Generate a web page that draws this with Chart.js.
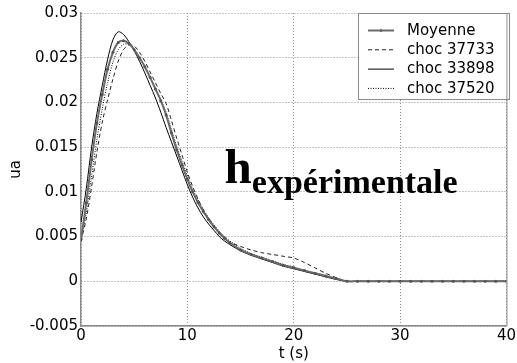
<!DOCTYPE html>
<html>
<head>
<meta charset="utf-8">
<script src="https://cdn.jsdelivr.net/npm/chart.js@4"></script>
<style>
  html, body { margin: 0; padding: 0; background: #fff; }
  #wrap { width: 517px; height: 363px; }
</style>
</head>
<body>
<div id="wrap"><canvas id="chart" width="517" height="363"></canvas></div>
<script>
// time axis (s)
const time = [0, 0.5, 1, 1.5, 2, 2.5, 3, 3.5, 4, 4.5, 5, 5.5, 6, 6.5, 7, 7.5, 8, 8.5, 9, 9.5,
    10, 10.5, 11, 11.5, 12, 12.5, 13, 13.5, 14, 15, 16, 17, 18, 19, 20, 21, 22, 23, 24, 25,
    26, 27, 28, 29, 30, 31, 32, 33, 34, 35, 36, 37, 38, 39, 40];

const zeros = new Array(15).fill(0); // t = 26..40

const moyenne = [0.0047, 0.0088, 0.0136, 0.0177, 0.0209, 0.0237, 0.0256, 0.0267, 0.0269, 0.0266,
    0.0259, 0.0250, 0.0240, 0.0228, 0.0215, 0.0202, 0.0186, 0.0166, 0.0147, 0.0130,
    0.0114, 0.0100, 0.0088, 0.0078, 0.0069, 0.0061, 0.0054, 0.0048, 0.0043, 0.0035,
    0.0030, 0.0026, 0.0022, 0.0018, 0.0015, 0.0012, 0.0009, 0.0006, 0.0003, 0].concat(zeros);

const choc37733 = [0.0045, 0.0070, 0.0106, 0.0145, 0.0178, 0.0203, 0.0226, 0.0246, 0.0259, 0.0264,
    0.0263, 0.0256, 0.0246, 0.0234, 0.0222, 0.0210, 0.0199, 0.0180, 0.0160, 0.0141,
    0.0122, 0.0106, 0.0092, 0.0080, 0.0070, 0.0062, 0.0055, 0.0049, 0.0044, 0.0039,
    0.0035, 0.0032, 0.0030, 0.0028, 0.0026, 0.0021, 0.0015, 0.0009, 0.0004, 0].concat(zeros);

const choc33898 = [0.0066, 0.0104, 0.0150, 0.0188, 0.0219, 0.0248, 0.0270, 0.0279, 0.0276, 0.0268,
    0.0258, 0.0246, 0.0233, 0.0219, 0.0205, 0.0189, 0.0172, 0.0156, 0.0140, 0.0124,
    0.0108, 0.0094, 0.0082, 0.0072, 0.0064, 0.0057, 0.0050, 0.0045, 0.0041, 0.0034,
    0.0029, 0.0025, 0.0021, 0.0017, 0.0014, 0.0011, 0.0008, 0.0005, 0.0002, 0].concat(zeros);

const choc37520 = [0.0045, 0.0077, 0.0118, 0.0159, 0.0193, 0.0222, 0.0245, 0.0259, 0.0265, 0.0265,
    0.0259, 0.0250, 0.0240, 0.0228, 0.0216, 0.0203, 0.0189, 0.0170, 0.0151, 0.0134,
    0.0118, 0.0103, 0.0091, 0.0080, 0.0071, 0.0063, 0.0056, 0.0050, 0.0045, 0.0037,
    0.0031, 0.0027, 0.0023, 0.0019, 0.0016, 0.0012, 0.0009, 0.0006, 0.0003, 0].concat(zeros);

const xTickLabels = ["0", "10", "20", "30", "40"];
const yTickLabels = ["-0.005", "0", "0.005", "0.01", "0.015", "0.02", "0.025", "0.03"];

const FONT = "'DejaVu Sans', Arial, sans-serif";
const SERIF = "'Liberation Serif', 'Times New Roman', serif";

function toPoints(values) {
    return values.map((v, i) => ({ x: time[i], y: v }));
}

// legend drawn inside the axes, Matlab style, plus the text annotation
const boxLegend = {
    id: "boxLegend",
    afterDraw(chart) {
        const ctx = chart.ctx;
        const area = chart.chartArea;
        const x0 = 358, y0 = 13, w = 151, h = 86;
        ctx.save();
        ctx.fillStyle = "#fff";
        ctx.fillRect(x0, y0, w, h);
        ctx.strokeStyle = "#8a8a8a";
        ctx.lineWidth = 1;
        ctx.strokeRect(x0 + 0.5, y0 + 0.5, w, h);
        ctx.font = "15px " + FONT;
        ctx.textBaseline = "middle";
        chart.data.datasets.forEach((ds, i) => {
            const y = y0 + 17 + i * 19.3;
            ctx.strokeStyle = ds.borderColor;
            ctx.lineWidth = ds.borderWidth;
            ctx.setLineDash(ds.borderDash || []);
            ctx.beginPath();
            ctx.moveTo(368, y + 0.5);
            ctx.lineTo(394, y + 0.5);
            ctx.stroke();
            ctx.setLineDash([]);
            if (ds.pointRadius > 0) {
                ctx.fillStyle = ds.borderColor;
                ctx.beginPath();
                ctx.arc(381, y + 0.5, 1.5, 0, Math.PI * 2);
                ctx.fill();
            }
            ctx.fillStyle = "#000";
            ctx.fillText(ds.label, 407, y + 1);
        });
        // right border of axes box
        ctx.strokeStyle = "#8a8a8a";
        ctx.lineWidth = 1;
        ctx.beginPath();
        ctx.moveTo(area.right + 0.5, area.top);
        ctx.lineTo(area.right + 0.5, area.bottom);
        ctx.stroke();

        // annotation h_expérimentale
        const sx = chart.scales.x, sy = chart.scales.y;
        const hx = sx.getPixelForValue(13.5);
        const hy = sy.getPixelForValue(0.011);
        ctx.fillStyle = "#000";
        ctx.textBaseline = "alphabetic";
        ctx.font = "bold 49px " + SERIF;
        ctx.fillText("h", hx, hy);
        const hw = ctx.measureText("h").width;
        ctx.font = "bold 34px " + SERIF;
        ctx.fillText("expérimentale", hx + hw + 0, hy + 10);
        ctx.restore();
    }
};

new Chart(document.getElementById("chart"), {
    type: "line",
    data: {
        datasets: [
            {
                label: "Moyenne",
                data: toPoints(moyenne),
                borderColor: "#6a6a6a",
                backgroundColor: "#6a6a6a",
                borderWidth: 2,
                pointRadius: 1.5,
                pointBorderWidth: 0,
                pointBackgroundColor: "#555",
                tension: 0.3
            },
            {
                label: "choc 37733",
                data: toPoints(choc37733),
                borderColor: "#222",
                borderWidth: 1,
                borderDash: [4, 3],
                pointRadius: 0,
                tension: 0.3
            },
            {
                label: "choc 33898",
                data: toPoints(choc33898),
                borderColor: "#000",
                borderWidth: 1,
                pointRadius: 0,
                tension: 0.3
            },
            {
                label: "choc 37520",
                data: toPoints(choc37520),
                borderColor: "#000",
                borderWidth: 1,
                borderDash: [1, 1.5],
                pointRadius: 0,
                tension: 0.3
            }
        ]
    },
    options: {
        responsive: false,
        animation: false,
        layout: { padding: { top: 13, right: 7, left: 0, bottom: 0 } },
        plugins: {
            legend: { display: false },
            tooltip: { enabled: false }
        },
        scales: {
            x: {
                type: "linear",
                min: 0,
                max: 40,
                afterFit: (s) => { s.height = 37; },
                ticks: {
                    stepSize: 10,
                    color: "#000",
                    font: { size: 15, family: FONT },
                    padding: 1,
                    maxRotation: 0,
                    callback: (v, i) => xTickLabels[i]
                },
                grid: { color: "#8c8c8c", lineWidth: 1, drawTicks: false },
                border: { display: true, color: "#8a8a8a", width: 1.5, dash: [1, 2] },
                title: {
                    display: true,
                    text: "t (s)",
                    color: "#000",
                    font: { size: 15, family: FONT },
                    padding: { top: -6, bottom: 0 }
                }
            },
            y: {
                min: -0.005,
                max: 0.03,
                afterFit: (s) => { s.width = 81; },
                ticks: {
                    stepSize: 0.005,
                    color: "#000",
                    font: { size: 15, family: FONT },
                    padding: 3,
                    callback: (v, i) => yTickLabels[i]
                },
                grid: { color: "#8c8c8c", lineWidth: 1, drawTicks: false },
                border: { display: true, color: "#8a8a8a", width: 1.5, dash: [1, 2] },
                title: {
                    display: true,
                    text: "ua",
                    color: "#000",
                    font: { size: 15, family: FONT },
                    padding: { top: 7, bottom: 0 }
                }
            }
        }
    },
    plugins: [boxLegend]
});
</script>
</body>
</html>
